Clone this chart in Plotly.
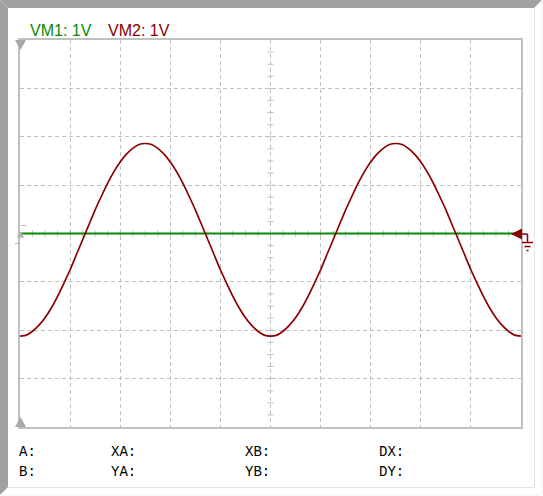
import plotly.graph_objects as go

# --------------------------------
# 1. DATA (1 V/div, 1/8 div samples)
# --------------------------------
time_div = [0.0, 0.125, 0.25, 0.375, 0.5, 0.625, 0.75, 0.875, 1.0, 1.125,
            1.25, 1.375, 1.5, 1.625, 1.75, 1.875, 2.0, 2.125, 2.25, 2.375,
            2.5, 2.625, 2.75, 2.875, 3.0, 3.125, 3.25, 3.375, 3.5, 3.625,
            3.75, 3.875, 4.0, 4.125, 4.25, 4.375, 4.5, 4.625, 4.75, 4.875,
            5.0, 5.125, 5.25, 5.375, 5.5, 5.625, 5.75, 5.875, 6.0, 6.125,
            6.25, 6.375, 6.5, 6.625, 6.75, 6.875, 7.0, 7.125, 7.25, 7.375,
            7.5, 7.625, 7.75, 7.875, 8.0, 8.125, 8.25, 8.375, 8.5, 8.625,
            8.75, 8.875, 9.0, 9.125, 9.25, 9.375, 9.5, 9.625, 9.75, 9.875,
            10.0]

vm2_volts = [-2.12, -2.10, -2.02, -1.90, -1.74, -1.54, -1.30, -1.03, -0.75, -0.44,
             -0.13, 0.18, 0.49, 0.77, 1.04, 1.28, 1.48, 1.64, 1.76, 1.84,
             1.86, 1.84, 1.76, 1.64, 1.48, 1.28, 1.04, 0.77, 0.49, 0.18,
             -0.13, -0.44, -0.75, -1.03, -1.30, -1.54, -1.74, -1.90, -2.02, -2.10,
             -2.12, -2.10, -2.02, -1.90, -1.74, -1.54, -1.30, -1.03, -0.75, -0.44,
             -0.13, 0.18, 0.49, 0.77, 1.04, 1.28, 1.48, 1.64, 1.76, 1.84,
             1.86, 1.84, 1.76, 1.64, 1.48, 1.28, 1.04, 0.77, 0.49, 0.18,
             -0.13, -0.44, -0.75, -1.03, -1.30, -1.54, -1.74, -1.90, -2.02, -2.10,
             -2.12]

vm1_time = [0.0, 10.0]
vm1_volts = [0.0, 0.0]

channel_labels = ["VM1: 1V", "VM2: 1V"]
cursor_labels = [["A:", "XA:", "XB:", "DX:"], ["B:", "YA:", "YB:", "DY:"]]

# --------------------------------
# 2. GEOMETRY HELPERS
# --------------------------------
W, H = 543, 496
L, R, T, B = 20, 22, 40, 69
PW, PH = W - L - R, H - T - B

GREEN = "#078a07"
DARKRED = "#8b0000"
GRID = "#c0c0c0"
FRAME_DARK = "#a0a0a0"


def px(x):
    return (x - L) / PW


def py(y):
    return 1 - (y - T) / PH


def poly(points):
    return "M " + " L ".join(f"{px(a):.5f},{py(b):.5f}" for a, b in points) + " Z"


def seg(x0, y0, x1, y1, color, width=1, layer="above"):
    return dict(type="line", xref="paper", yref="paper", x0=px(x0), y0=py(y0),
                x1=px(x1), y1=py(y1), line=dict(color=color, width=width), layer=layer)


# --------------------------------
# 3. TRACES
# --------------------------------
fig = go.Figure()
fig.add_trace(go.Scatter(x=vm1_time, y=vm1_volts, mode="lines",
                         line=dict(color=GREEN, width=1.8), hoverinfo="skip"))
fig.add_trace(go.Scatter(x=time_div, y=vm2_volts, mode="lines",
                         line=dict(color=DARKRED, width=1.7, shape="spline", smoothing=0.6),
                         hoverinfo="skip"))

# --------------------------------
# 4. SHAPES: frame, center ticks, markers
# --------------------------------
shapes = []
# window frame (inset look)
shapes.append(dict(type="path", xref="paper", yref="paper", layer="above",
                   path=poly([(0, 0), (542, 0), (534, 8), (8, 8)]),
                   fillcolor=FRAME_DARK, line=dict(width=0)))
shapes.append(dict(type="path", xref="paper", yref="paper", layer="above",
                   path=poly([(0, 0), (8, 8), (8, 487), (0, 495)]),
                   fillcolor=FRAME_DARK, line=dict(width=0)))
shapes.append(seg(534.5, 8, 534.5, 487, "#e4e4e4"))
shapes.append(seg(8, 487.5, 534.5, 487.5, "#e4e4e4"))
shapes.append(seg(542, 0, 542, 495, "#f0f0f0"))
shapes.append(seg(0, 495, 542, 495, "#f0f0f0"))

# quarter-division ticks along the center axes
for k in range(1, 32):
    yv = -4 + k * 0.25
    shapes.append(dict(type="line", xref="x", yref="y", x0=4.94, x1=5.06, y0=yv, y1=yv,
                       line=dict(color=GRID, width=1), layer="below"))
for k in range(1, 40):
    xv = k * 0.25
    shapes.append(dict(type="line", xref="x", yref="y", x0=xv, x1=xv, y0=-0.065, y1=0.065,
                       line=dict(color=GRID, width=1), layer="below"))

# cursor triangles (gray)
shapes.append(dict(type="path", xref="paper", yref="paper", layer="above",
                   path=poly([(15, 40), (26, 40), (20.5, 50)]),
                   fillcolor="#a8a8a8", line=dict(width=0)))
shapes.append(dict(type="path", xref="paper", yref="paper", layer="above",
                   path=poly([(15, 427), (26, 427), (20.5, 417)]),
                   fillcolor="#a8a8a8", line=dict(width=0)))
# channel A ground marker (gray)
shapes.append(dict(type="path", xref="paper", yref="paper", layer="above",
                   path=poly([(17, 237.5), (24, 237.5), (21.5, 232), (19.5, 232)]),
                   fillcolor="#b0b0b0", line=dict(width=0)))
shapes.append(seg(21, 225.5, 26, 225.5, "#b0b0b0"))
shapes.append(seg(15, 243.5, 20, 243.5, "#b0b0b0"))

# channel B ground marker (dark red)
shapes.append(dict(type="path", xref="paper", yref="paper", layer="above",
                   path=poly([(511, 234), (522, 228.5), (522, 239.5)]),
                   fillcolor=DARKRED, line=dict(width=0)))
shapes.append(seg(521, 234, 527.5, 234, DARKRED, 1.5))
shapes.append(seg(527.5, 234, 527.5, 242, DARKRED, 1.5))
shapes.append(seg(522, 242.5, 533, 242.5, DARKRED, 1.5))
shapes.append(seg(524.5, 246.5, 530.5, 246.5, DARKRED, 1.5))
shapes.append(seg(526.5, 250.5, 528.5, 250.5, DARKRED, 1.5))

# --------------------------------
# 5. TEXT
# --------------------------------
annotations = []
for label, xpos, color in zip(channel_labels, [28, 106], [GREEN, DARKRED]):
    annotations.append(dict(text=label, xref="paper", yref="paper", x=px(xpos), y=py(30),
                            xanchor="left", yanchor="middle", showarrow=False,
                            font=dict(family="Arial, Liberation Sans", size=16, color=color)))

cursor_x = [17, 109, 243, 377]
cursor_y = [452, 472]
for row, yrow in zip(cursor_labels, cursor_y):
    for label, xcol in zip(row, cursor_x):
        annotations.append(dict(text=label, xref="paper", yref="paper", x=px(xcol), y=py(yrow),
                                xanchor="left", yanchor="middle", showarrow=False,
                                font=dict(family="Liberation Mono, Courier New", size=14,
                                          color="#000000")))

# --------------------------------
# 6. LAYOUT
# --------------------------------
axis_common = dict(showgrid=True, gridcolor=GRID, griddash="4px,3px", gridwidth=1,
                   zeroline=False, showticklabels=False, ticks="",
                   showline=True, mirror=True, linecolor=GRID, linewidth=1.5,
                   fixedrange=True)

fig.update_layout(
    width=W, height=H,
    margin=dict(l=L, r=R, t=T, b=B, pad=0),
    paper_bgcolor="#ffffff", plot_bgcolor="#ffffff",
    showlegend=False,
    xaxis=dict(range=[0, 10], dtick=1, **axis_common),
    yaxis=dict(range=[-4, 4], dtick=1, **axis_common),
    shapes=shapes,
    annotations=annotations,
)

# page body has a default 8px margin; drop it so the figure sits at the window origin
fig.write_html("out.html", config={"displayModeBar": False},
               post_script="document.body.style.margin='0';")
